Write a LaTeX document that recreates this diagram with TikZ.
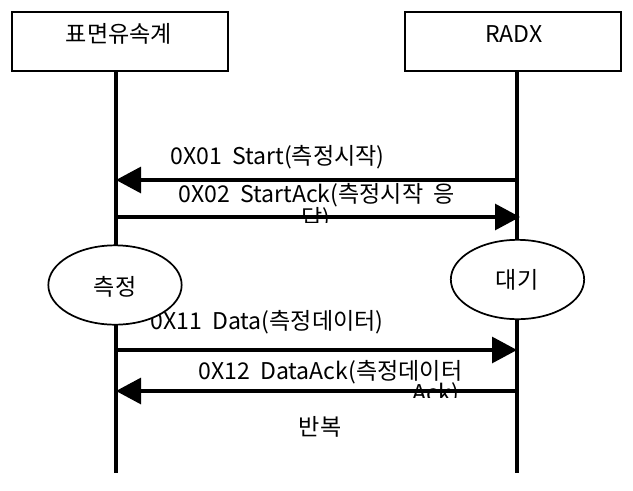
\documentclass[tikz,border=0pt]{standalone}
\usepackage{fontspec}
\setmainfont{Noto Sans CJK KR}
\usetikzlibrary{arrows.meta,shapes.geometric}
\begin{document}
\begin{tikzpicture}[x=0.75pt,y=-0.75pt,
  actor/.style={draw=black,line width=0.9pt,fill=white,minimum width=162pt,minimum height=44.25pt,inner sep=0pt},
  state/.style={draw=black,line width=1.3pt,fill=white,ellipse,minimum width=100pt,minimum height=59.5pt,inner sep=0pt},
  lifeline/.style={line width=2.3pt},
  msg/.style={line width=2.3pt,-{Triangle[length=18.75pt,width=19.5pt]}},
  lbl/.style={font=\fontsize{17.3pt}{20pt}\selectfont,inner sep=0pt,anchor=west},
  ttl/.style={font=\fontsize{17.3pt}{20pt}\selectfont,inner sep=0pt}
]
\useasboundingbox[fill=white] (0,0) rectangle (633,490);
% actors
\node[actor] (boxL) at (120,41.5) {};
\node[actor] (boxR) at (513,41.5) {};
\node[ttl] (tL) at (119,34) {표면유속계};
\node[ttl] (tR) at (514,34) {RADX};
% lifelines
\coordinate (botL) at (116,473);
\coordinate (botR) at (517,473);
\coordinate (topL) at (116,71.5);
\coordinate (topR) at (517,71.5);
\draw[lifeline] (topL) -- (botL);
\draw[lifeline] (topR) -- (botR);
% message coordinates
\coordinate (l1) at (116,180); \coordinate (r1) at (517,180);
\coordinate (l2) at (116,217); \coordinate (r2) at (520,217);
\coordinate (l3) at (116,350); \coordinate (r3) at (517,350);
\coordinate (l4) at (116,391); \coordinate (r4) at (517,391);
% labels
\node[lbl] (m1) at (170,157) {0X01\ \ Start(측정시작)};
\node[lbl] (m2) at (178,195) {0X02\ \ StartAck(측정시작\ \ 응};
\begin{scope}
\clip (280,200) rectangle (350,222);
\node[ttl] (m2b) at (316,219) {답)};
\end{scope}
\node[lbl] (m3) at (150,322) {0X11\ \ Data(측정데이터)};
\node[lbl] (m4) at (198,372) {0X12\ \ DataAck(측정데이터};
\begin{scope}
\clip (400,380) rectangle (470,397);
\node[ttl] (m4b) at (436,394) {Ack)};
\end{scope}
\node[ttl] (rep) at (320,427) {반복};
% messages
\draw[msg] (r1) -- (l1);
\draw[msg] (l2) -- (r2);
\draw[msg] (l3) -- (r3);
\draw[msg] (r4) -- (l4);
% states
\node[state] (ellL) at (115,285) {};
\node[ttl] (sL) at (115,287) {측정};
\node[state] (ellR) at (517.5,279.5) {};
\node[ttl] (sR) at (517,280) {대기};
\end{tikzpicture}
\end{document}
